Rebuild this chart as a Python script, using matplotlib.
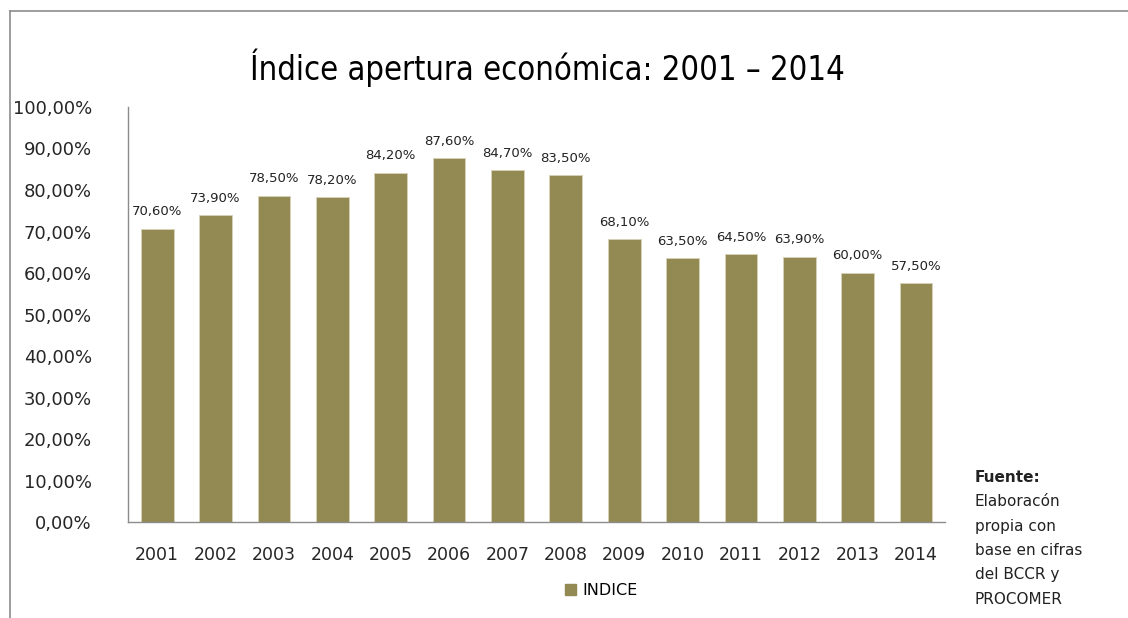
import matplotlib.pyplot as plt
from matplotlib.lines import Line2D
from matplotlib.patches import Patch

years = ['2001', '2002', '2003', '2004', '2005', '2006', '2007',
         '2008', '2009', '2010', '2011', '2012', '2013', '2014']
indice = [70.6, 73.9, 78.5, 78.2, 84.2, 87.6, 84.7,
          83.5, 68.1, 63.5, 64.5, 63.9, 60.0, 57.5]
yticks = [0, 10, 20, 30, 40, 50, 60, 70, 80, 90, 100]
fuente = ['Elaboracón', 'propia con', 'base en cifras', 'del BCCR y', 'PROCOMER']

bar_color = '#938953'

plt.rcParams['font.family'] = ['DejaVu Sans']

fig = plt.figure(figsize=(11.28, 6.18), dpi=100)
ax = fig.add_axes([0.1135, 0.155, 0.7245, 0.672])

x = range(len(years))
ax.bar(x, indice, width=0.56, color=bar_color, edgecolor='#d8d3b8', linewidth=0.6)

# value labels above each bar, comma decimal
for i, v in zip(x, indice):
    ax.text(i, v + 2.6, f'{v:.2f}%'.replace('.', ','), ha='center', va='bottom',
            fontsize=9.5, color='#222222')

ax.set_xlim(-0.5, len(years) - 0.5)
ax.set_ylim(0, 100)
ax.set_yticks(yticks)
ax.set_yticklabels([f'{t},00%' for t in yticks])
ax.set_xticks(list(x))
ax.set_xticklabels(years)
ax.tick_params(axis='y', length=0, pad=26, labelsize=13, colors='#262626')
ax.tick_params(axis='x', length=0, pad=17, labelsize=12.5, colors='#262626')
for s in ['top', 'right']:
    ax.spines[s].set_visible(False)
for s in ['left', 'bottom']:
    ax.spines[s].set_color('#8c8c8c')
    ax.spines[s].set_linewidth(1.0)

fig.text(0.485, 0.89, 'Índice apertura económica: 2001 – 2014', ha='center', va='center',
         fontsize=23.5, fontweight='normal', fontstretch='condensed',
         family=['DejaVu Sans'])

leg = fig.legend(handles=[Patch(color=bar_color, label='INDICE')], loc='center',
                 bbox_to_anchor=(0.533, 0.045), frameon=False, fontsize=11.5,
                 handlelength=0.7, handleheight=0.7, handletextpad=0.4)

fig.text(0.864, 1 - 477 / 618, 'Fuente:', fontsize=11, fontweight='bold', va='center', color='#222222')
for k, line in enumerate(fuente):
    fig.text(0.864, 1 - (501.5 + k * 24.5) / 618, line, fontsize=11, va='center', color='#222222')

# outer frame lines
fig.add_artist(Line2D([10 / 1128, 1.0], [1 - 11 / 618, 1 - 11 / 618], color='#8c8c8c', lw=1.2))
fig.add_artist(Line2D([10 / 1128, 10 / 1128], [0.0, 1 - 11 / 618], color='#8c8c8c', lw=1.2))

fig.savefig('out.png', dpi=100)
